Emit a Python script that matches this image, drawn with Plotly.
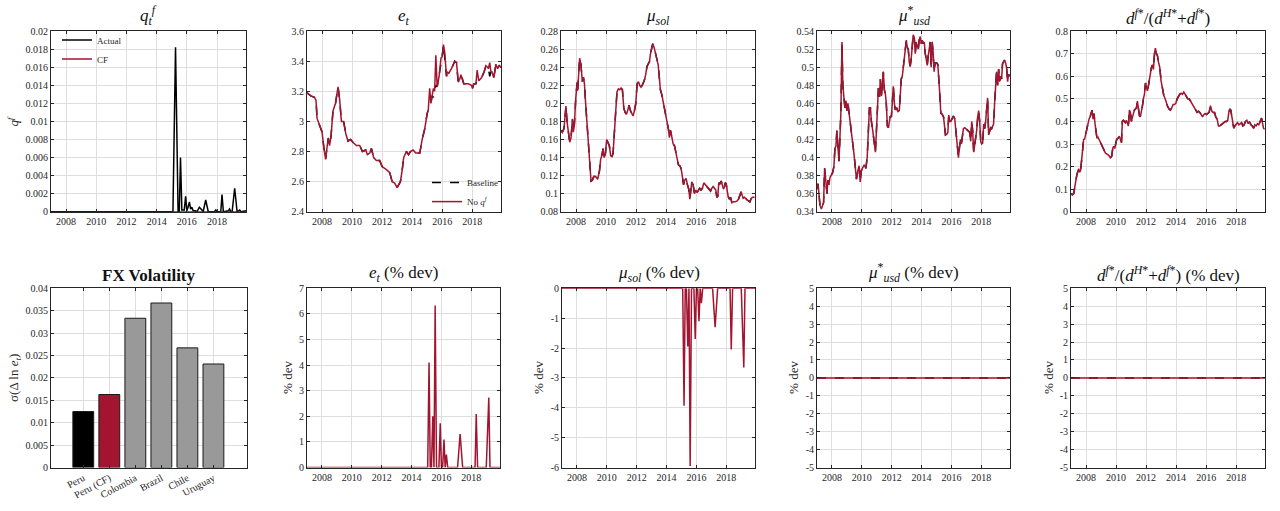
import plotly.graph_objects as go

W, H = 1280, 511
RED = "#A2142F"
GREY = "#999999"
AX = "#262626"
FONT = "Liberation Serif"

# ---------------- data ----------------
year_ticks = [2008, 2010, 2012, 2014, 2016, 2018]
year_labels = ["2008", "2010", "2012", "2014", "2016", "2018"]
x_range = [2007.0, 2019.92]

# q^f actual (decimal year, value)
qf_actual_pts = [(2007.0, 0), (2015.08, 0), (2015.25, 0.0182), (2015.42, 0), (2015.5, 0),
                 (2015.58, 0.006), (2015.67, 0.0002), (2015.83, 0.0002), (2015.92, 0.0017),
                 (2016.0, 0.0001), (2016.08, 0.0005), (2016.17, 0.0011), (2016.25, 0.0003),
                 (2016.33, 0.0005), (2016.42, 0.0001), (2016.58, 0.0001), (2016.67, 0.0),
                 (2016.83, 0.0005), (2017.0, 0.0002), (2017.08, 0), (2017.25, 0.0013),
                 (2017.42, 0), (2017.83, 0), (2017.92, 0.0002), (2018.0, 0), (2018.25, 0),
                 (2018.33, 0.0019), (2018.42, 0), (2018.75, 0.0001), (2018.83, 0.0003),
                 (2018.92, 0.0), (2019.0, 0), (2019.17, 0.0026), (2019.33, 0), (2019.5, 0.0002),
                 (2019.58, 0), (2019.92, 0.0001)]
qf_cf_pts = [(2007.0, 0), (2019.92, 0)]

e_base_pts = [(2007.0, 3.19), (2007.25, 3.17), (2007.5, 3.16), (2007.6, 3.14), (2007.67, 3.02),
              (2007.84, 2.98), (2008.0, 2.93), (2008.13, 2.82), (2008.24, 2.75), (2008.36, 2.85),
              (2008.42, 2.89), (2008.5, 2.84), (2008.6, 2.9), (2008.73, 3.07), (2008.9, 3.12),
              (2009.02, 3.2), (2009.07, 3.23), (2009.18, 3.14), (2009.29, 3.0), (2009.44, 3.0),
              (2009.58, 2.92), (2009.73, 2.87), (2009.9, 2.88), (2010.07, 2.86), (2010.29, 2.84),
              (2010.51, 2.84), (2010.69, 2.8), (2010.91, 2.81), (2011.02, 2.78), (2011.18, 2.79),
              (2011.29, 2.82), (2011.44, 2.76), (2011.62, 2.74), (2011.84, 2.74), (2012.0, 2.7),
              (2012.29, 2.68), (2012.51, 2.66), (2012.67, 2.6), (2012.84, 2.59), (2013.0, 2.56),
              (2013.22, 2.6), (2013.33, 2.67), (2013.44, 2.76), (2013.62, 2.8), (2013.76, 2.78),
              (2013.89, 2.8), (2014.07, 2.81), (2014.24, 2.79), (2014.51, 2.79), (2014.67, 2.88),
              (2014.84, 2.95), (2015.0, 3.05), (2015.08, 3.08), (2015.17, 3.09), (2015.25, 3.12),
              (2015.33, 3.17), (2015.42, 3.16), (2015.5, 3.2), (2015.58, 3.24), (2015.67, 3.23),
              (2015.8, 3.3), (2015.92, 3.36), (2016.0, 3.43), (2016.09, 3.51), (2016.17, 3.42),
              (2016.29, 3.3), (2016.33, 3.31), (2016.44, 3.32), (2016.62, 3.35), (2016.84, 3.4),
              (2016.96, 3.39), (2017.07, 3.26), (2017.17, 3.28), (2017.25, 3.27), (2017.33, 3.29),
              (2017.44, 3.25), (2017.73, 3.25), (2017.96, 3.24), (2018.02, 3.22), (2018.11, 3.25),
              (2018.25, 3.25), (2018.33, 3.27), (2018.44, 3.27), (2018.62, 3.29), (2018.8, 3.33),
              (2018.91, 3.37), (2019.02, 3.36), (2019.08, 3.35), (2019.17, 3.3), (2019.25, 3.33),
              (2019.31, 3.33), (2019.44, 3.29), (2019.58, 3.38), (2019.69, 3.35), (2019.8, 3.37),
              (2019.92, 3.36)]

e_noq_pts = [(2007.0, 3.19), (2007.25, 3.17), (2007.5, 3.16), (2007.6, 3.14), (2007.67, 3.02),
             (2007.84, 2.98), (2008.0, 2.93), (2008.13, 2.82), (2008.24, 2.75), (2008.36, 2.85),
             (2008.42, 2.89), (2008.5, 2.84), (2008.6, 2.9), (2008.73, 3.07), (2008.9, 3.12),
             (2009.02, 3.2), (2009.07, 3.23), (2009.18, 3.14), (2009.29, 3.0), (2009.44, 3.0),
             (2009.58, 2.92), (2009.73, 2.87), (2009.9, 2.88), (2010.07, 2.86), (2010.29, 2.84),
             (2010.51, 2.84), (2010.69, 2.8), (2010.91, 2.81), (2011.02, 2.78), (2011.18, 2.79),
             (2011.29, 2.82), (2011.44, 2.76), (2011.62, 2.74), (2011.84, 2.74), (2012.0, 2.7),
             (2012.29, 2.68), (2012.51, 2.66), (2012.67, 2.6), (2012.84, 2.59), (2013.0, 2.56),
             (2013.22, 2.6), (2013.33, 2.67), (2013.44, 2.76), (2013.62, 2.8), (2013.76, 2.78),
             (2013.89, 2.8), (2014.07, 2.81), (2014.24, 2.79), (2014.51, 2.79), (2014.67, 2.88),
             (2014.84, 2.95), (2015.0, 3.05), (2015.08, 3.08), (2015.17, 3.22), (2015.25, 3.12),
             (2015.33, 3.17), (2015.42, 3.22), (2015.5, 3.2), (2015.58, 3.44), (2015.67, 3.23),
             (2015.8, 3.3), (2015.92, 3.42), (2016.0, 3.43), (2016.09, 3.51), (2016.17, 3.46),
             (2016.29, 3.3), (2016.33, 3.33), (2016.44, 3.32), (2016.62, 3.35), (2016.84, 3.4),
             (2016.96, 3.39), (2017.07, 3.26), (2017.17, 3.28), (2017.25, 3.31), (2017.33, 3.29),
             (2017.44, 3.25), (2017.73, 3.25), (2017.96, 3.24), (2018.02, 3.22), (2018.11, 3.25),
             (2018.25, 3.25), (2018.33, 3.34), (2018.44, 3.27), (2018.62, 3.29), (2018.8, 3.33),
             (2018.91, 3.37), (2019.02, 3.36), (2019.08, 3.35), (2019.17, 3.39), (2019.25, 3.33),
             (2019.31, 3.33), (2019.44, 3.29), (2019.58, 3.38), (2019.69, 3.35), (2019.8, 3.37),
             (2019.92, 3.36)]

musol_pts = [(2007.0, 0.170), (2007.09, 0.168), (2007.2, 0.172), (2007.27, 0.185), (2007.33, 0.197),
             (2007.4, 0.180), (2007.49, 0.170), (2007.58, 0.157), (2007.67, 0.162), (2007.76, 0.183),
             (2007.82, 0.168), (2007.89, 0.176), (2007.98, 0.205), (2008.07, 0.223), (2008.11, 0.214),
             (2008.18, 0.235), (2008.24, 0.250), (2008.33, 0.243), (2008.42, 0.224), (2008.49, 0.229),
             (2008.56, 0.222), (2008.64, 0.200), (2008.73, 0.178), (2008.82, 0.155), (2008.91, 0.135),
             (2009.0, 0.114), (2009.09, 0.115), (2009.18, 0.119), (2009.31, 0.119), (2009.44, 0.116),
             (2009.56, 0.125), (2009.64, 0.138), (2009.73, 0.143), (2009.8, 0.150), (2009.87, 0.140),
             (2009.96, 0.145), (2010.04, 0.160), (2010.16, 0.154), (2010.22, 0.153), (2010.31, 0.142),
             (2010.4, 0.141), (2010.47, 0.145), (2010.56, 0.175), (2010.64, 0.190), (2010.73, 0.213),
             (2010.82, 0.216), (2010.91, 0.215), (2011.0, 0.217), (2011.09, 0.215), (2011.18, 0.195),
             (2011.27, 0.190), (2011.36, 0.188), (2011.44, 0.192), (2011.53, 0.198), (2011.62, 0.192),
             (2011.71, 0.188), (2011.8, 0.186), (2011.89, 0.192), (2011.98, 0.200), (2012.07, 0.222),
             (2012.16, 0.224), (2012.24, 0.220), (2012.33, 0.218), (2012.44, 0.221), (2012.56, 0.226),
             (2012.64, 0.232), (2012.73, 0.241), (2012.82, 0.244), (2012.89, 0.246), (2012.96, 0.255),
             (2013.04, 0.262), (2013.11, 0.266), (2013.2, 0.262), (2013.29, 0.256), (2013.38, 0.250),
             (2013.47, 0.243), (2013.53, 0.232), (2013.62, 0.215), (2013.71, 0.210), (2013.8, 0.202),
             (2013.89, 0.197), (2013.98, 0.186), (2014.07, 0.178), (2014.16, 0.171), (2014.22, 0.162),
             (2014.29, 0.170), (2014.38, 0.163), (2014.47, 0.155), (2014.56, 0.153), (2014.64, 0.145),
             (2014.73, 0.140), (2014.82, 0.132), (2014.91, 0.131), (2015.0, 0.128), (2015.09, 0.118),
             (2015.16, 0.110), (2015.24, 0.115), (2015.33, 0.117), (2015.42, 0.110), (2015.51, 0.105),
             (2015.58, 0.094), (2015.64, 0.105), (2015.71, 0.113), (2015.8, 0.110), (2015.89, 0.100),
             (2015.98, 0.104), (2016.07, 0.101), (2016.16, 0.104), (2016.24, 0.106), (2016.33, 0.104),
             (2016.42, 0.106), (2016.51, 0.112), (2016.6, 0.110), (2016.69, 0.108), (2016.78, 0.106),
             (2016.87, 0.104), (2016.96, 0.103), (2017.04, 0.106), (2017.13, 0.108), (2017.22, 0.106),
             (2017.31, 0.104), (2017.38, 0.096), (2017.44, 0.097), (2017.51, 0.112), (2017.58, 0.111),
             (2017.67, 0.114), (2017.76, 0.110), (2017.82, 0.105), (2017.89, 0.108), (2017.93, 0.112),
             (2018.0, 0.111), (2018.07, 0.105), (2018.13, 0.097), (2018.22, 0.094), (2018.29, 0.096),
             (2018.38, 0.090), (2018.47, 0.091), (2018.6, 0.091), (2018.73, 0.092), (2018.82, 0.094),
             (2018.93, 0.098), (2019.0, 0.102), (2019.07, 0.098), (2019.13, 0.095), (2019.22, 0.096),
             (2019.31, 0.094), (2019.4, 0.093), (2019.49, 0.092), (2019.58, 0.091), (2019.67, 0.095),
             (2019.76, 0.096), (2019.89, 0.096)]

mustar_pts = [(2007.0, 0.365), (2007.07, 0.371), (2007.13, 0.360), (2007.2, 0.347), (2007.29, 0.343),
              (2007.38, 0.347), (2007.44, 0.350), (2007.51, 0.388), (2007.6, 0.370), (2007.67, 0.360),
              (2007.73, 0.375), (2007.8, 0.370), (2007.87, 0.378), (2007.96, 0.380), (2008.04, 0.383),
              (2008.13, 0.390), (2008.2, 0.410), (2008.27, 0.413), (2008.33, 0.430), (2008.4, 0.412),
              (2008.47, 0.396), (2008.53, 0.420), (2008.6, 0.450), (2008.67, 0.528), (2008.73, 0.480),
              (2008.8, 0.467), (2008.87, 0.455), (2008.93, 0.463), (2009.0, 0.452), (2009.07, 0.460),
              (2009.13, 0.452), (2009.2, 0.440), (2009.29, 0.430), (2009.38, 0.421), (2009.47, 0.405),
              (2009.56, 0.390), (2009.64, 0.376), (2009.73, 0.385), (2009.82, 0.391), (2009.89, 0.373),
              (2009.96, 0.385), (2010.04, 0.388), (2010.16, 0.392), (2010.27, 0.388), (2010.36, 0.400),
              (2010.44, 0.430), (2010.51, 0.455), (2010.58, 0.455), (2010.64, 0.440), (2010.73, 0.430),
              (2010.82, 0.420), (2010.91, 0.406), (2010.98, 0.430), (2011.04, 0.465), (2011.11, 0.477),
              (2011.18, 0.467), (2011.24, 0.487), (2011.31, 0.468), (2011.38, 0.480), (2011.44, 0.495),
              (2011.51, 0.475), (2011.58, 0.470), (2011.64, 0.460), (2011.71, 0.435), (2011.78, 0.433),
              (2011.84, 0.440), (2011.91, 0.446), (2011.98, 0.445), (2012.04, 0.470), (2012.11, 0.479),
              (2012.18, 0.460), (2012.24, 0.453), (2012.33, 0.455), (2012.42, 0.451), (2012.51, 0.452),
              (2012.58, 0.468), (2012.64, 0.487), (2012.71, 0.490), (2012.78, 0.500), (2012.84, 0.510),
              (2012.91, 0.525), (2012.98, 0.530), (2013.04, 0.522), (2013.11, 0.520), (2013.18, 0.505),
              (2013.24, 0.501), (2013.31, 0.510), (2013.38, 0.525), (2013.44, 0.536), (2013.51, 0.533),
              (2013.58, 0.515), (2013.64, 0.528), (2013.71, 0.522), (2013.78, 0.520), (2013.84, 0.530),
              (2013.91, 0.534), (2013.98, 0.526), (2014.04, 0.530), (2014.11, 0.526), (2014.18, 0.528),
              (2014.24, 0.516), (2014.31, 0.505), (2014.38, 0.502), (2014.44, 0.512), (2014.51, 0.524),
              (2014.58, 0.528), (2014.64, 0.500), (2014.71, 0.528), (2014.78, 0.515), (2014.84, 0.495),
              (2014.91, 0.505), (2015.0, 0.505), (2015.09, 0.503), (2015.16, 0.490), (2015.22, 0.470),
              (2015.29, 0.449), (2015.38, 0.448), (2015.47, 0.445), (2015.53, 0.438), (2015.6, 0.425),
              (2015.69, 0.426), (2015.76, 0.428), (2015.82, 0.447), (2015.89, 0.440), (2015.96, 0.440),
              (2016.04, 0.444), (2016.13, 0.446), (2016.22, 0.443), (2016.31, 0.425), (2016.4, 0.410),
              (2016.47, 0.400), (2016.53, 0.410), (2016.6, 0.420), (2016.67, 0.415), (2016.73, 0.423),
              (2016.8, 0.432), (2016.89, 0.433), (2016.98, 0.432), (2017.07, 0.430), (2017.16, 0.429),
              (2017.22, 0.428), (2017.29, 0.418), (2017.36, 0.440), (2017.42, 0.430), (2017.49, 0.406),
              (2017.56, 0.415), (2017.62, 0.420), (2017.69, 0.430), (2017.76, 0.445), (2017.82, 0.452),
              (2017.89, 0.440), (2017.96, 0.418), (2018.02, 0.415), (2018.09, 0.416), (2018.16, 0.437),
              (2018.22, 0.432), (2018.29, 0.440), (2018.36, 0.452), (2018.42, 0.466), (2018.49, 0.425),
              (2018.56, 0.430), (2018.62, 0.433), (2018.69, 0.432), (2018.76, 0.435), (2018.82, 0.437),
              (2018.89, 0.460), (2018.96, 0.485), (2019.02, 0.495), (2019.09, 0.480), (2019.16, 0.498),
              (2019.22, 0.484), (2019.29, 0.490), (2019.36, 0.487), (2019.42, 0.504), (2019.49, 0.506),
              (2019.56, 0.508), (2019.62, 0.505), (2019.69, 0.500), (2019.76, 0.484), (2019.82, 0.492),
              (2019.89, 0.490)]

dshare_pts = [(2007.0, 0.080), (2007.09, 0.075), (2007.18, 0.080), (2007.24, 0.110), (2007.31, 0.140),
              (2007.38, 0.160), (2007.44, 0.175), (2007.51, 0.190), (2007.58, 0.175), (2007.64, 0.185),
              (2007.71, 0.230), (2007.78, 0.300), (2007.84, 0.320), (2007.91, 0.322), (2008.0, 0.350),
              (2008.07, 0.380), (2008.13, 0.400), (2008.2, 0.410), (2008.27, 0.420), (2008.33, 0.440),
              (2008.4, 0.450), (2008.47, 0.410), (2008.53, 0.435), (2008.6, 0.390), (2008.67, 0.340),
              (2008.73, 0.325), (2008.8, 0.330), (2008.87, 0.320), (2008.96, 0.305), (2009.07, 0.290),
              (2009.18, 0.275), (2009.29, 0.260), (2009.4, 0.255), (2009.51, 0.250), (2009.62, 0.240),
              (2009.71, 0.245), (2009.78, 0.280), (2009.84, 0.290), (2009.91, 0.280), (2009.98, 0.300),
              (2010.04, 0.320), (2010.13, 0.325), (2010.22, 0.335), (2010.29, 0.320), (2010.36, 0.305),
              (2010.42, 0.400), (2010.49, 0.405), (2010.56, 0.400), (2010.62, 0.395), (2010.69, 0.405),
              (2010.76, 0.385), (2010.82, 0.380), (2010.89, 0.450), (2010.96, 0.440), (2011.02, 0.400),
              (2011.09, 0.420), (2011.16, 0.440), (2011.22, 0.450), (2011.29, 0.455), (2011.36, 0.460),
              (2011.42, 0.490), (2011.49, 0.445), (2011.56, 0.425), (2011.62, 0.420), (2011.69, 0.440),
              (2011.76, 0.470), (2011.82, 0.500), (2011.89, 0.520), (2011.96, 0.570), (2012.02, 0.550),
              (2012.09, 0.535), (2012.16, 0.560), (2012.22, 0.590), (2012.29, 0.610), (2012.36, 0.640),
              (2012.42, 0.650), (2012.49, 0.630), (2012.56, 0.700), (2012.62, 0.725), (2012.69, 0.700),
              (2012.76, 0.690), (2012.82, 0.665), (2012.91, 0.640), (2013.0, 0.580), (2013.09, 0.540),
              (2013.18, 0.515), (2013.27, 0.500), (2013.36, 0.480), (2013.44, 0.465), (2013.53, 0.455),
              (2013.62, 0.450), (2013.71, 0.460), (2013.8, 0.475), (2013.89, 0.475), (2013.98, 0.480),
              (2014.07, 0.500), (2014.16, 0.515), (2014.24, 0.520), (2014.33, 0.525), (2014.42, 0.520),
              (2014.51, 0.530), (2014.6, 0.520), (2014.69, 0.510), (2014.78, 0.500), (2014.87, 0.500),
              (2014.96, 0.490), (2015.04, 0.480), (2015.13, 0.475), (2015.22, 0.460), (2015.31, 0.450),
              (2015.4, 0.440), (2015.49, 0.445), (2015.58, 0.440), (2015.67, 0.430), (2015.76, 0.420),
              (2015.84, 0.430), (2015.93, 0.435), (2016.02, 0.430), (2016.11, 0.435), (2016.2, 0.440),
              (2016.29, 0.470), (2016.38, 0.445), (2016.47, 0.440), (2016.56, 0.440), (2016.64, 0.420),
              (2016.73, 0.410), (2016.82, 0.380), (2016.91, 0.380), (2017.0, 0.385), (2017.09, 0.390),
              (2017.18, 0.395), (2017.27, 0.400), (2017.36, 0.400), (2017.44, 0.405), (2017.51, 0.440),
              (2017.58, 0.455), (2017.64, 0.450), (2017.71, 0.420), (2017.78, 0.400), (2017.84, 0.370),
              (2017.91, 0.380), (2018.0, 0.390), (2018.09, 0.395), (2018.18, 0.385), (2018.27, 0.390),
              (2018.36, 0.395), (2018.44, 0.380), (2018.53, 0.385), (2018.62, 0.400), (2018.71, 0.405),
              (2018.8, 0.390), (2018.89, 0.400), (2018.98, 0.385), (2019.07, 0.380), (2019.16, 0.370),
              (2019.24, 0.385), (2019.33, 0.380), (2019.42, 0.390), (2019.51, 0.385), (2019.6, 0.400),
              (2019.69, 0.415), (2019.76, 0.390), (2019.82, 0.370), (2019.89, 0.365)]

vol_countries = ["Peru", "Peru (CF)", "Colombia", "Brazil", "Chile", "Uruguay"]
vol_values = [0.0125, 0.0163, 0.0333, 0.0367, 0.0267, 0.0231]

edev_pts = [(2007.0, 0), (2015.08, 0), (2015.17, 4.1), (2015.25, 0), (2015.33, 0), (2015.42, 2.0),
            (2015.5, 0), (2015.58, 6.33), (2015.67, 0), (2015.83, 0), (2015.92, 1.73), (2016.0, 0),
            (2016.08, 0), (2016.17, 1.1), (2016.25, 0), (2016.33, 0.51), (2016.42, 0), (2017.08, 0),
            (2017.25, 1.31), (2017.42, 0), (2018.25, 0), (2018.33, 2.09), (2018.42, 0), (2019.0, 0),
            (2019.17, 2.73), (2019.25, 0), (2019.92, 0)]

musoldev_pts = [(2007.0, 0), (2015.08, 0), (2015.17, -3.93), (2015.25, 0), (2015.33, 0), (2015.42, -1.95),
                (2015.5, 0), (2015.58, -5.95), (2015.67, 0), (2015.83, 0), (2015.92, -1.7), (2016.0, 0),
                (2016.08, 0), (2016.17, -1.1), (2016.25, 0), (2016.33, -0.5), (2016.42, 0), (2017.08, 0),
                (2017.25, -1.3), (2017.42, 0), (2018.25, 0), (2018.33, -2.05), (2018.42, 0), (2019.0, 0),
                (2019.17, -2.65), (2019.25, 0), (2019.92, 0)]

mustardev_pts = [(2007.0, 0), (2019.92, 0)]
dsharedev_pts = [(2007.0, 0), (2019.92, 0)]

dev_ticks = [-5, -4, -3, -2, -1, 0, 1, 2, 3, 4, 5]
dev_labels = ["-5", "-4", "-3", "-2", "-1", "0", "1", "2", "3", "4", "5"]
musoldev_ticks = [-6, -5, -4, -3, -2, -1, 0]
musoldev_labels = ["-6", "-5", "-4", "-3", "-2", "-1", "0"]


def xs(pts):
    return [p[0] for p in pts]


def ys(pts):
    return [p[1] for p in pts]


# ---------------- layout geometry ----------------
def xd(a, b):
    return [a / W, b / W]


def yd(top, bot):
    return [1 - bot / H, 1 - top / H]


TOP = (25.7, 210.7)
BOT = (289.0, 472.7)
panels = {
    1: ((51, 246), TOP), 2: ((307, 501), TOP), 3: ((561, 755), TOP), 4: ((817, 1010), TOP),
    5: ((1071, 1265), TOP), 6: ((51, 247), BOT), 7: ((307, 500), BOT), 8: ((562, 755), BOT),
    9: ((817, 1010), BOT), 10: ((1071, 1265), BOT),
}

tickfont = dict(family=FONT, size=10, color=AX)
common = dict(showline=True, linecolor=AX, linewidth=1, mirror="ticks", ticks="inside",
              ticklen=3, tickcolor=AX, showgrid=True, gridcolor="#dedede", gridwidth=1,
              zeroline=False, tickfont=tickfont)

fig = go.Figure()
LW = 1.5


def add_line(pts, i, color, dash="solid", name=None, legend=None, width=LW):
    fig.add_trace(go.Scatter(
        x=xs(pts), y=ys(pts), mode="lines", line=dict(color=color, width=width, dash=dash),
        xaxis="x" if i == 1 else f"x{i}", yaxis="y" if i == 1 else f"y{i}",
        name=name, showlegend=legend is not None, legend=legend or "legend",
        hoverinfo="skip"))


# Panel 1
add_line(qf_cf_pts, 1, RED, name="CF", legend="legend")
add_line(qf_actual_pts, 1, "black", name="Actual", legend="legend")
fig.data[0].legendrank = 2
fig.data[1].legendrank = 1
# Panel 2
add_line(e_base_pts, 2, "black", dash="dash", name="Baseline", legend="legend2")
add_line(e_noq_pts, 2, RED, name="No <i>q<sup>f</sup></i>", legend="legend2")
# Panel 3-5
add_line(musol_pts, 3, "black", dash="dash")
add_line(musol_pts, 3, RED)
add_line(mustar_pts, 4, "black", dash="dash")
add_line(mustar_pts, 4, RED)
add_line(dshare_pts, 5, "black", dash="dash")
add_line(dshare_pts, 5, RED)
# Panel 6 bars
fig.add_trace(go.Bar(x=vol_countries, y=vol_values, xaxis="x6", yaxis="y6", width=0.8,
                     marker=dict(color=["black", RED, GREY, GREY, GREY, GREY],
                                 line=dict(color="#1a1a1a", width=1)),
                     showlegend=False, hoverinfo="skip"))
# Panels 7-10
add_line(edev_pts, 7, RED)
add_line(musoldev_pts, 8, RED)
add_line(mustardev_pts, 9, "black", dash="dash")
add_line(mustardev_pts, 9, RED)
add_line(dsharedev_pts, 10, "black", dash="dash")
add_line(dsharedev_pts, 10, RED)

yspec = {
    1: dict(range=[0, 0.02], dtick=0.002),
    2: dict(range=[2.4, 3.6], dtick=0.2),
    3: dict(range=[0.08, 0.28], dtick=0.02),
    4: dict(range=[0.34, 0.54], dtick=0.02),
    5: dict(range=[0, 0.8], dtick=0.1),
    6: dict(range=[0, 0.04], dtick=0.005),
    7: dict(range=[0, 7], dtick=1),
    8: dict(range=[-6, 0], tickmode="array", tickvals=musoldev_ticks, ticktext=musoldev_labels),
    9: dict(range=[-5, 5], tickmode="array", tickvals=dev_ticks, ticktext=dev_labels),
    10: dict(range=[-5, 5], tickmode="array", tickvals=dev_ticks, ticktext=dev_labels),
}

layout = {}
for i, ((xa, xb), (yt, yb)) in panels.items():
    sx = "" if i == 1 else str(i)
    if i == 6:
        xax = dict(common, domain=xd(xa, xb), anchor="y6", type="category",
                   range=[-1.24, 6.29], tickangle=-28)
    else:
        xax = dict(common, domain=xd(xa, xb), anchor="y" + sx, range=x_range,
                   tickmode="array", tickvals=year_ticks, ticktext=year_labels)
    yax = dict(common, domain=yd(yt, yb), anchor="x" + sx, **yspec[i])
    layout["xaxis" + sx] = xax
    layout["yaxis" + sx] = yax

fig.update_layout(**layout)

# titles
titles = {
    1: "<i>q</i><sub><i>t</i></sub><sup><i>f</i></sup>",
    2: "<i>e</i><sub><i>t</i></sub>",
    3: "<i>μ</i><sub><i>sol</i></sub>",
    4: "<i>μ</i><sup>*</sup><sub><i>usd</i></sub>",
    5: "<i>d</i><sup><i>f</i>*</sup>/(<i>d</i><sup><i>H</i>*</sup>+<i>d</i><sup><i>f</i>*</sup>)",
    6: "<b>FX Volatility</b>",
    7: "<i>e</i><sub><i>t</i></sub> (% dev)",
    8: "<i>μ</i><sub><i>sol</i></sub> (% dev)",
    9: "<i>μ</i><sup>*</sup><sub><i>usd</i></sub> (% dev)",
    10: "<i>d</i><sup><i>f</i>*</sup>/(<i>d</i><sup><i>H</i>*</sup>+<i>d</i><sup><i>f</i>*</sup>) (% dev)",
}
ylabels = {
    1: ("<i>q<sup>f</sup></i>", 13),
    6: ("σ(Δ ln <i>e</i><sub><i>t</i></sub>)", 15),
    7: ("% dev", 288),
    8: ("% dev", 539),
    9: ("% dev", 794),
    10: ("% dev", 1049),
}
ann = []
for i, t in titles.items():
    (xa, xb), (yt, yb) = panels[i]
    ann.append(dict(text=t, x=(xa + xb) / 2 / W, y=1 - (yt - 1) / H, xref="paper", yref="paper",
                    xanchor="center", yanchor="bottom", showarrow=False,
                    font=dict(family=FONT, size=17, color="#111111")))
for i, (t, px) in ylabels.items():
    (xa, xb), (yt, yb) = panels[i]
    ann.append(dict(text=t, x=px / W, y=1 - (yt + yb) / 2 / H, xref="paper", yref="paper",
                    xanchor="center", yanchor="middle", textangle=-90, showarrow=False,
                    font=dict(family=FONT, size=13, color=AX)))

fig.update_layout(
    width=W, height=H, margin=dict(l=0, r=0, t=0, b=0),
    paper_bgcolor="white", plot_bgcolor="white",
    annotations=ann,
    legend=dict(x=57 / W, y=1 - 20 / H, xanchor="left", yanchor="top", bgcolor="rgba(0,0,0,0)",
                font=dict(family=FONT, size=9, color=AX), itemwidth=30, tracegroupgap=0),
    legend2=dict(x=427 / W, y=1 - 166 / H, xanchor="left", yanchor="top", bgcolor="rgba(0,0,0,0)",
                 font=dict(family=FONT, size=9, color=AX), itemwidth=30, tracegroupgap=0),
    bargap=0.2,
)

fig.write_html("out.html", config={"displayModeBar": False},
               post_script="document.body.style.margin='0px';document.body.style.overflow='hidden';")
